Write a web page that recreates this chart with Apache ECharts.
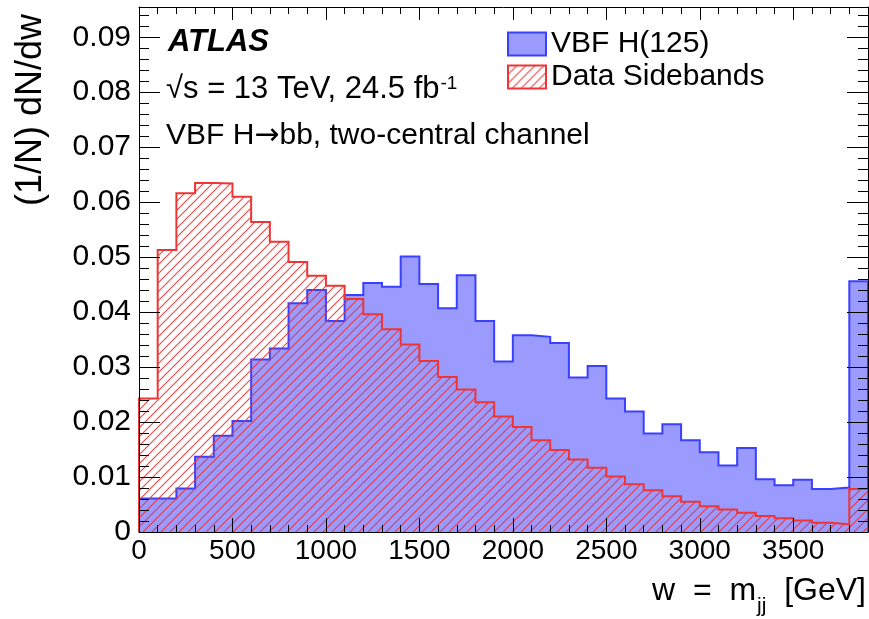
<!DOCTYPE html>
<html>
<head>
<meta charset="utf-8">
<script src="https://cdn.jsdelivr.net/npm/echarts@6/dist/echarts.min.js"></script>
<style>
html,body{margin:0;padding:0;background:#fff;}
#chart{width:869px;height:619px;}
</style>
</head>
<body>
<div id="chart"></div>
<script>
// ---- data (bins of 100 GeV, 0 .. 3900 GeV) ----
const BIN_WIDTH = 100;
const vbfH125 = [
  0.0061, 0.0061, 0.0079, 0.0137, 0.0175, 0.0202, 0.0314, 0.0334, 0.0416, 0.0440,
  0.0384, 0.0431, 0.0453, 0.0446, 0.0501, 0.0451, 0.0407, 0.0467, 0.0384, 0.0310,
  0.0358, 0.0355, 0.0344, 0.0281, 0.0302, 0.0243, 0.0219, 0.0179, 0.0196, 0.0167,
  0.0145, 0.0121, 0.0153, 0.0096, 0.0085, 0.0095, 0.0078, 0.0081, 0.0456
];
const dataSidebands = [
  0.0243, 0.0513, 0.0616, 0.0635, 0.0634, 0.0610, 0.0564, 0.0528, 0.0491, 0.0466,
  0.0448, 0.0424, 0.0396, 0.0369, 0.0341, 0.0311, 0.0282, 0.0259, 0.0236, 0.0210,
  0.0191, 0.0167, 0.0149, 0.0132, 0.0117, 0.0101, 0.0087, 0.0076, 0.0065, 0.0055,
  0.0047, 0.0041, 0.0035, 0.0029, 0.0025, 0.0021, 0.0017, 0.0014, 0.0078
];
const xMajorTicks = [0, 500, 1000, 1500, 2000, 2500, 3000, 3500];
const yMajorTicks = [0, 0.01, 0.02, 0.03, 0.04, 0.05, 0.06, 0.07, 0.08, 0.09];
const seriesNames = ['VBF H(125)', 'Data Sidebands'];

const X_MAX = 3900, Y_MAX = 0.0955;
const xMinorTicks = [];
for (let v = 0; v <= X_MAX; v += 100) xMinorTicks.push(v);
const yMinorTicks = [];
for (let k = 0; k <= 47; k++) yMinorTicks.push(+(k * 0.002).toFixed(3));

// histogram outline built from bin values
function histPoints(vals) {
  const pts = [[0, 0]];
  vals.forEach((v, i) => {
    pts.push([i * BIN_WIDTH, v]);
    pts.push([(i + 1) * BIN_WIDTH, v]);
  });
  pts.push([vals.length * BIN_WIDTH, 0]);
  return pts;
}

// hatch pattern
function makeHatch() {
  const s = 9;
  const c = document.createElement('canvas');
  c.width = s; c.height = s;
  const g = c.getContext('2d');
  g.strokeStyle = 'rgba(235,50,50,0.9)';
  g.lineWidth = 1.1;
  g.beginPath();
  g.moveTo(-1, s + 1); g.lineTo(s + 1, -1);
  g.moveTo(-1, 1); g.lineTo(1, -1);
  g.moveTo(s - 1, s + 1); g.lineTo(s + 1, s - 1);
  g.stroke();
  return { image: c, repeat: 'repeat' };
}
const hatch = makeHatch();

const FONT = 'Liberation Sans';
const BLUE_LINE = '#3a40ff', BLUE_FILL = '#9a9aff', RED_LINE = '#ee3535';

function xAxisDef(pos, major) {
  return {
    type: 'value', min: 0, max: X_MAX, position: pos, z: 5,
    axisLine: { show: major, onZero: false, lineStyle: { color: '#000', width: 1 } },
    axisTick: { show: true, inside: true, length: major ? (pos === 'bottom' ? 14 : 13) : 7,
      customValues: major ? xMajorTicks : xMinorTicks, lineStyle: { color: '#000', width: 1 } },
    axisLabel: { show: false },
    splitLine: { show: false }
  };
}
function yAxisDef(pos, major) {
  return {
    type: 'value', min: 0, max: Y_MAX, position: pos, z: 5,
    axisLine: { show: major, onZero: false, lineStyle: { color: '#000', width: 1 } },
    axisTick: { show: true, inside: true, length: major ? 21 : 10,
      customValues: major ? yMajorTicks : yMinorTicks, lineStyle: { color: '#000', width: 1 } },
    axisLabel: { show: false },
    splitLine: { show: false }
  };
}

const xMain = xAxisDef('bottom', true);
xMain.axisLabel = {
  show: true, customValues: xMajorTicks, color: '#000', fontSize: 28, fontFamily: FONT, margin: 5,
  formatter: v => String(v)
};
xMain.name = '{a|w  =  m}{s|jj}{a|  [GeV]}';
xMain.nameLocation = 'end';
xMain.nameGap = -2;
xMain.nameMoveOverlap = false;
xMain.nameTextStyle = {
  align: 'right', verticalAlign: 'top', padding: [43, 0, 0, 0], color: '#000',
  rich: {
    a: { fontSize: 32, fontFamily: FONT, color: '#000', lineHeight: 32, verticalAlign: 'top' },
    s: { fontSize: 21, fontFamily: FONT, color: '#000', lineHeight: 21, verticalAlign: 'top', padding: [21, 0, 0, 1] }
  }
};

const yMain = yAxisDef('left', true);
yMain.axisLabel = {
  show: true, customValues: yMajorTicks, color: '#000', fontSize: 30, fontFamily: FONT, margin: 8,
  formatter: v => (v === 0 ? '0' : v.toFixed(2))
};
yMain.name = '(1/N) dN/dw';
yMain.nameLocation = 'end';
yMain.nameRotate = 90;
yMain.nameGap = -7;
yMain.nameMoveOverlap = false;
yMain.nameTextStyle = {
  align: 'right', verticalAlign: 'bottom', fontSize: 36, fontFamily: FONT, color: '#000',
  lineHeight: 36, padding: [0, 0, 90, 0]
};

const option = {
  animation: false,
  backgroundColor: '#fff',
  grid: { left: 139, right: 1, top: 7, bottom: 87, containLabel: false, outerBoundsMode: 'none' },
  xAxis: [xMain, xAxisDef('bottom', false), xAxisDef('top', true), xAxisDef('top', false)],
  yAxis: [yMain, yAxisDef('left', false), yAxisDef('right', true), yAxisDef('right', false)],
  legend: {
    left: 507, top: 29, orient: 'vertical', padding: 0, itemGap: 3,
    itemWidth: 38, itemHeight: 23, icon: 'rect', selectedMode: false,
    textStyle: { fontSize: 30, fontFamily: FONT, color: '#000' },
    data: [
      { name: seriesNames[0], itemStyle: { color: BLUE_FILL, borderColor: BLUE_LINE, borderWidth: 2 } },
      { name: seriesNames[1], itemStyle: { color: hatch, borderColor: RED_LINE, borderWidth: 2 } }
    ]
  },
  graphic: [
    { type: 'text', x: 168, y: 42, z: 10,
      style: { text: 'ATLAS', font: 'italic bold 31px "Liberation Sans"', fill: '#000', verticalAlign: 'middle', align: 'left' } },
    { type: 'text', x: 166, y: 74, z: 10,
      style: {
        text: '{a|√s = 13 TeV, 24.5 fb}{b|-1}', fill: '#000', verticalAlign: 'top', align: 'left',
        rich: {
          a: { fontSize: 31, fontFamily: FONT, fill: '#000', lineHeight: 31, verticalAlign: 'top' },
          b: { fontSize: 19, fontFamily: FONT, fill: '#000', verticalAlign: 'top', padding: [0, 0, 0, 1] }
        }
      } },
    { type: 'text', x: 166, y: 121, z: 10,
      style: {
        text: '{a|VBF H}{r|→}{a|bb, two-central channel}', fill: '#000', verticalAlign: 'top', align: 'left',
        rich: {
          a: { fontSize: 30, fontFamily: FONT, fill: '#000', lineHeight: 30, verticalAlign: 'middle' },
          r: { fontSize: 30, fontFamily: 'DejaVu Sans', fill: '#000', lineHeight: 30, verticalAlign: 'middle' }
        }
      } }
  ],
  series: [
    {
      name: seriesNames[0], type: 'line', data: histPoints(vbfH125), xAxisIndex: 0, yAxisIndex: 0,
      symbol: 'none', showSymbol: false, silent: true, z: 2,
      lineStyle: { color: BLUE_LINE, width: 2, join: 'miter' },
      itemStyle: { color: BLUE_LINE },
      areaStyle: { color: BLUE_FILL, opacity: 1 }
    },
    {
      name: seriesNames[1], type: 'line', data: histPoints(dataSidebands), xAxisIndex: 0, yAxisIndex: 0,
      symbol: 'none', showSymbol: false, silent: true, z: 3,
      lineStyle: { color: RED_LINE, width: 2, join: 'miter' },
      itemStyle: { color: RED_LINE },
      areaStyle: { color: hatch, opacity: 1 }
    }
  ]
};

const chart = echarts.init(document.getElementById('chart'), null, { renderer: 'canvas' });
chart.setOption(option);
</script>
</body>
</html>
